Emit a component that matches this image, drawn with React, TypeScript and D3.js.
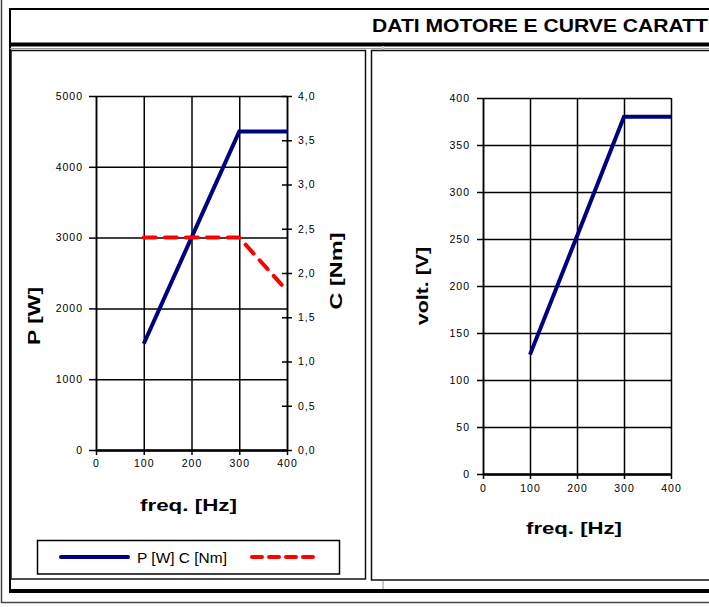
import * as d3 from "d3";
import { useEffect, useRef } from "react";

// values
const freqHz = [100, 200, 300, 400];
const powerW = [1500, 3000, 4500, 4500];
const torqueNm = [2.4, 2.4, 2.4, 1.8];
const voltV = [127, 253, 380, 380];

const freqTicks = [0, 100, 200, 300, 400];
const powerTicks = [0, 1000, 2000, 3000, 4000, 5000];
const torqueTicks = [0, 0.5, 1, 1.5, 2, 2.5, 3, 3.5, 4];
const voltTicks = [0, 50, 100, 150, 200, 250, 300, 350, 400];

const TITLE = "DATI MOTORE E CURVE CARATT";
const LEGEND_TEXT = "P [W] C [Nm]";
const FONT = "'Liberation Sans', Arial, Helvetica, sans-serif";
const NAVY = "#000080";
const RED = "#ff0000";

type Sel = d3.Selection<any, any, any, any>;

const intFmt = d3.format("d");

function styleAxis(a: Sel, domainWidth = 1.5) {
    a.selectAll("text")
        .attr("font-family", FONT)
        .attr("font-size", 10.5)
        .attr("letter-spacing", 1)
        .attr("fill", "#000");
    a.selectAll("line").attr("stroke", "#000").attr("stroke-width", 1.5);
    a.select(".domain").attr("stroke", "#000").attr("stroke-width", domainWidth);
}

function drawGrid(g: Sel, x: d3.ScaleLinear<number, number>, y: d3.ScaleLinear<number, number>,
    xTicks: number[], yTicks: number[]) {
    const [x0, x1] = x.range();
    const [y0, y1] = y.range();
    g.append("g")
        .attr("transform", `translate(${x0},0)`)
        .call(d3.axisLeft(y).tickValues(yTicks).tickSize(-(x1 - x0)).tickFormat(() => ""))
        .call(a => a.select(".domain").remove())
        .selectAll("line").attr("stroke", "#000").attr("stroke-width", 1.5);
    g.append("g")
        .attr("transform", `translate(0,${y0})`)
        .call(d3.axisBottom(x).tickValues(xTicks).tickSize(-(y0 - y1)).tickFormat(() => ""))
        .call(a => a.select(".domain").remove())
        .selectAll("line").attr("stroke", "#000").attr("stroke-width", 1.5);
}

function axisTitle(svg: Sel, label: string, x: number, y: number, len: number, rotate = false) {
    svg.append("text")
        .attr("transform", `translate(${x},${y})${rotate ? " rotate(-90)" : ""}`)
        .attr("text-anchor", "middle")
        .attr("font-family", FONT)
        .attr("font-weight", "bold")
        .attr("font-size", 17)
        .attr("textLength", len)
        .attr("lengthAdjust", "spacingAndGlyphs")
        .text(label);
}

function drawFrame(svg: Sel) {
    // outer sheet border
    svg.append("path").attr("d", "M1.5,0 V602.5 H709").attr("fill", "none")
        .attr("stroke", "#444").attr("stroke-width", 1.5);
    // title box
    svg.append("path").attr("d", "M10,593 V9 H709").attr("fill", "none")
        .attr("stroke", "#000").attr("stroke-width", 2);
    svg.append("rect").attr("x", 9).attr("y", 42.5).attr("width", 700).attr("height", 4).attr("fill", "#000");
    svg.append("line").attr("x1", 10).attr("x2", 709).attr("y1", 48.5).attr("y2", 48.5)
        .attr("stroke", "#999").attr("stroke-width", 1);
    svg.append("line").attr("x1", 383).attr("x2", 383).attr("y1", 46).attr("y2", 50)
        .attr("stroke", "#c8c8c8").attr("stroke-width", 2);

    svg.append("text")
        .attr("x", 372).attr("y", 32)
        .attr("font-family", FONT).attr("font-weight", "bold").attr("font-size", 19)
        .attr("textLength", 336).attr("lengthAdjust", "spacingAndGlyphs")
        .text(TITLE);

    // chart panels
    svg.append("rect").attr("x", 11).attr("y", 50.5).attr("width", 354.5).attr("height", 528.5)
        .attr("fill", "none").attr("stroke", "#111").attr("stroke-width", 1.5);
    svg.append("rect").attr("x", 371.5).attr("y", 50.5).attr("width", 345).attr("height", 529.5)
        .attr("fill", "none").attr("stroke", "#111").attr("stroke-width", 1.5);

    // bottom bar
    svg.append("rect").attr("x", 10).attr("y", 589).attr("width", 699).attr("height", 4).attr("fill", "#000");
    svg.append("line").attr("x1", 383).attr("x2", 383).attr("y1", 581).attr("y2", 589)
        .attr("stroke", "#c8c8c8").attr("stroke-width", 2);
}

function drawLeft(svg: Sel) {
    const x = d3.scaleLinear().domain([0, 400]).range([96, 287]);
    const yP = d3.scaleLinear().domain([0, 5000]).range([450, 96]);
    const yC = d3.scaleLinear().domain([0, 4]).range([450, 96]);

    const g = svg.append("g");
    drawGrid(g, x, yP, freqTicks, powerTicks);

    g.append("g")
        .attr("transform", "translate(96,0)")
        .call(d3.axisLeft(yP).tickValues(powerTicks).tickSize(7).tickSizeOuter(0).tickPadding(6)
            .tickFormat(d => intFmt(d as number)))
        .call(a => styleAxis(a));

    g.append("g")
        .attr("transform", "translate(287,0)")
        .call(d3.axisRight(yC).tickValues(torqueTicks).tickSize(5).tickSizeOuter(0).tickPadding(6)
            .tickFormat(d => d3.format(".1f")(d as number).replace(".", ",")))
        .call(a => styleAxis(a))
        .call(a => a.selectAll(".tick line").attr("x1", -5));

    g.append("g")
        .attr("transform", "translate(0,450)")
        .call(d3.axisBottom(x).tickValues(freqTicks).tickSize(5).tickSizeOuter(0).tickPadding(5)
            .tickFormat(d => intFmt(d as number)))
        .call(a => styleAxis(a, 2.5));

    const pLine = d3.line<number>().x((_, i) => x(freqHz[i])).y(d => yP(d));
    const cLine = d3.line<number>().x((_, i) => x(freqHz[i])).y(d => yC(d));

    g.append("path").attr("d", pLine(powerW)!).attr("fill", "none")
        .attr("stroke", NAVY).attr("stroke-width", 4);
    g.append("path").attr("d", cLine(torqueNm)!).attr("fill", "none")
        .attr("stroke", RED).attr("stroke-width", 4)
        .attr("stroke-dasharray", "12 9").attr("stroke-linecap", "round");

    axisTitle(svg, "P [W]", 39.5, 316, 58, true);
    axisTitle(svg, "C [Nm]", 342, 271, 77, true);
    axisTitle(svg, "freq. [Hz]", 188.5, 511, 97);

    // legend
    const lg = svg.append("g");
    lg.append("rect").attr("x", 37.5).attr("y", 540.5).attr("width", 302).attr("height", 33.5)
        .attr("fill", "#fff").attr("stroke", "#000").attr("stroke-width", 1.5);
    lg.append("line").attr("x1", 61).attr("x2", 128).attr("y1", 557).attr("y2", 557)
        .attr("stroke", NAVY).attr("stroke-width", 4).attr("stroke-linecap", "round");
    lg.append("text").attr("x", 137).attr("y", 562.5)
        .attr("font-family", FONT).attr("font-size", 15)
        .attr("textLength", 90).attr("lengthAdjust", "spacingAndGlyphs")
        .text(LEGEND_TEXT);
    lg.append("line").attr("x1", 252).attr("x2", 320).attr("y1", 557).attr("y2", 557)
        .attr("stroke", RED).attr("stroke-width", 4).attr("stroke-linecap", "round")
        .attr("stroke-dasharray", "10 7");
}

function drawRight(svg: Sel) {
    const x = d3.scaleLinear().domain([0, 400]).range([483, 671]);
    const y = d3.scaleLinear().domain([0, 400]).range([474, 98]);

    const g = svg.append("g");
    drawGrid(g, x, y, freqTicks, voltTicks);

    g.append("g")
        .attr("transform", "translate(483,0)")
        .call(d3.axisLeft(y).tickValues(voltTicks).tickSize(6).tickSizeOuter(0).tickPadding(7)
            .tickFormat(d => intFmt(d as number)))
        .call(a => styleAxis(a));

    g.append("g")
        .attr("transform", "translate(0,474)")
        .call(d3.axisBottom(x).tickValues(freqTicks).tickSize(5).tickSizeOuter(0).tickPadding(6)
            .tickFormat(d => intFmt(d as number)))
        .call(a => styleAxis(a, 2.5));

    const vLine = d3.line<number>().x((_, i) => x(freqHz[i])).y(d => y(d));
    g.append("path").attr("d", vLine(voltV)!).attr("fill", "none")
        .attr("stroke", NAVY).attr("stroke-width", 4);

    axisTitle(svg, "volt. [V]", 428, 286, 78, true);
    axisTitle(svg, "freq. [Hz]", 574, 534, 96);
}

export default function App() {
    const ref = useRef<SVGSVGElement>(null);

    useEffect(() => {
        const svg = d3.select(ref.current);
        svg.selectAll("*").remove();
        drawFrame(svg);
        drawLeft(svg);
        drawRight(svg);
    }, []);

    return (
        <svg
            ref={ref}
            width={709}
            height={607}
            style={{ position: "absolute", left: 0, top: 0, background: "#fff" }}
        />
    );
}
